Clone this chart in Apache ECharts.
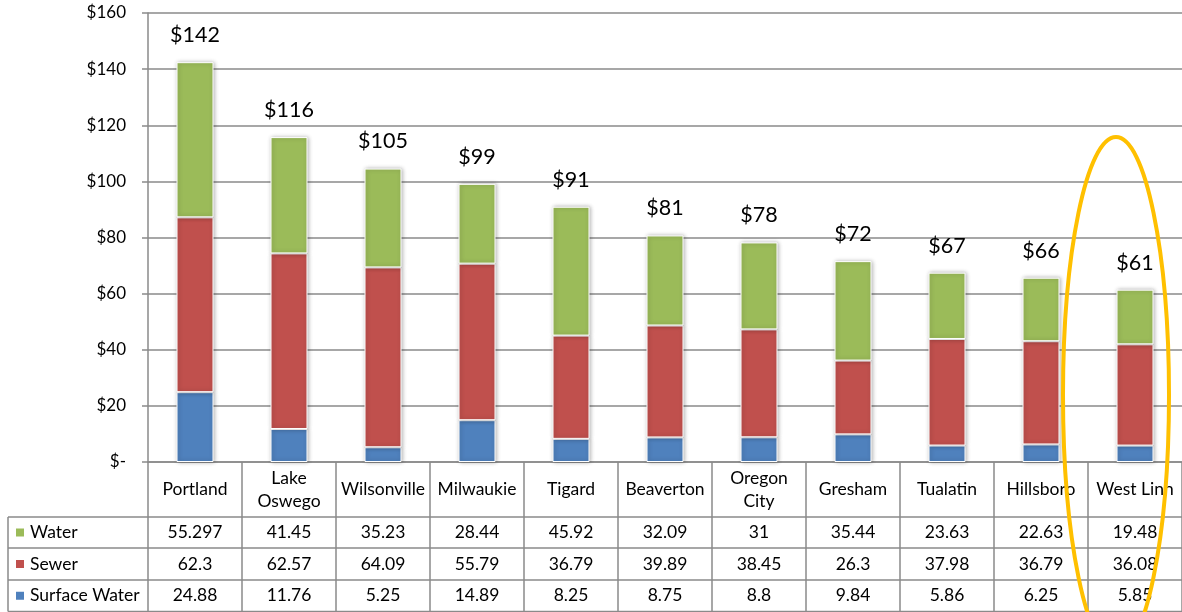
<!DOCTYPE html>
<html>
<head>
<meta charset="utf-8">
<script src="https://cdn.jsdelivr.net/npm/echarts@6/dist/echarts.min.js"></script>
<style>
html,body{margin:0;padding:0;background:#fff;}
#chart{width:1182px;height:612px;}
</style>
</head>
<body>
<div id="chart"></div>
<script>
// ---- data ----
const categories = ['Portland', 'Lake\nOswego', 'Wilsonville', 'Milwaukie', 'Tigard', 'Beaverton', 'Oregon\nCity', 'Gresham', 'Tualatin', 'Hillsboro', 'West Linn'];
const seriesNames = ['Water', 'Sewer', 'Surface Water'];
const water = [55.297, 41.45, 35.23, 28.44, 45.92, 32.09, 31, 35.44, 23.63, 22.63, 19.48];
const sewer = [62.3, 62.57, 64.09, 55.79, 36.79, 39.89, 38.45, 26.3, 37.98, 36.79, 36.08];
const surfaceWater = [24.88, 11.76, 5.25, 14.89, 8.25, 8.75, 8.8, 9.84, 5.86, 6.25, 5.85];
const yTicks = [0, 20, 40, 60, 80, 100, 120, 140, 160];

const colors = { 'Water': '#9BBB59', 'Sewer': '#C0504D', 'Surface Water': '#4F81BD' };
const FONT = 'Lato, "Open Sans", sans-serif';
const totals = categories.map((c, i) => water[i] + sewer[i] + surfaceWater[i]);

const chart = echarts.init(document.getElementById('chart'), null, { renderer: 'canvas' });

const barStyle = (name) => ({
  color: colors[name],
  borderColor: '#ffffff',
  borderWidth: 1,
  shadowBlur: 4,
  shadowColor: 'rgba(0,0,0,0.3)',
  shadowOffsetX: 1,
  shadowOffsetY: 0
});

const option = {
  animation: false,
  backgroundColor: '#ffffff',
  grid: { left: 148, right: 0, top: 13, bottom: 150, containLabel: false },
  xAxis: {
    type: 'category',
    data: categories,
    axisLine: { show: true, lineStyle: { color: '#8a8a8a', width: 1.5 } },
    axisTick: { show: false },
    axisLabel: { show: false },
    splitLine: { show: false }
  },
  yAxis: {
    type: 'value',
    min: yTicks[0],
    max: yTicks[yTicks.length - 1],
    interval: 20,
    axisLine: { show: true, lineStyle: { color: '#8a8a8a', width: 1.5 } },
    axisTick: { show: true, inside: false, length: 6, lineStyle: { color: '#8a8a8a', width: 1.5 } },
    splitLine: { show: true, lineStyle: { color: '#8a8a8a', width: 1.5 } },
    axisLabel: {
      margin: 22,
      fontFamily: FONT,
      fontSize: 17,
      color: '#000',
      formatter: (v) => v === 0 ? '$-' : '$' + v
    }
  },
  series: [
    {
      name: 'Surface Water', type: 'bar', stack: 'total', barWidth: 37,
      data: surfaceWater, itemStyle: barStyle('Surface Water')
    },
    {
      name: 'Sewer', type: 'bar', stack: 'total', barWidth: 37,
      data: sewer, itemStyle: barStyle('Sewer')
    },
    {
      name: 'Water', type: 'bar', stack: 'total', barWidth: 37,
      data: water, itemStyle: barStyle('Water'),
      label: {
        show: true, position: 'top', distance: 16,
        fontFamily: FONT, fontSize: 21.5, color: '#000',
        formatter: (p) => '$' + Math.round(totals[p.dataIndex])
      }
    }
  ]
};
chart.setOption(option);

// ---- data table drawn below the plot ----
function buildTable() {
  const lineColor = '#8a8a8a';
  const lw = 1.5;
  const fs = 17.5;
  const yAxisY = chart.convertToPixel({ yAxisIndex: 0 }, 0);
  const half = chart.convertToPixel({ xAxisIndex: 0 }, 1) - chart.convertToPixel({ xAxisIndex: 0 }, 0);
  const centers = categories.map((c, i) => chart.convertToPixel({ xAxisIndex: 0 }, i));
  const leftX = centers[0] - half / 2;
  const rightX = centers[centers.length - 1] + half / 2;
  const tableLeft = 8;
  const headerBottom = 517;
  const rowBounds = [517, 548, 580, 611.5];
  const rows = [water, sewer, surfaceWater];
  const els = [];
  const line = (x1, y1, x2, y2) => els.push({
    type: 'line', z: 10, silent: true,
    shape: { x1, y1, x2, y2 }, style: { stroke: lineColor, lineWidth: lw }
  });
  for (let k = 0; k <= categories.length; k++) {
    const x = leftX + k * half;
    line(x, yAxisY, x, rowBounds[rowBounds.length - 1]);
  }
  line(tableLeft, headerBottom, tableLeft, rowBounds[rowBounds.length - 1]);
  rowBounds.forEach(y => line(tableLeft, y, rightX, y));
  centers.forEach((cx, i) => {
    els.push({
      type: 'text', z: 11, silent: true,
      style: {
        x: cx, y: (yAxisY + headerBottom) / 2, text: categories[i],
        fontFamily: FONT, fontSize: fs, fill: '#000',
        align: 'center', verticalAlign: 'middle', lineHeight: 23
      }
    });
  });
  rows.forEach((vals, r) => {
    const cy = (rowBounds[r] + rowBounds[r + 1]) / 2;
    els.push({
      type: 'rect', z: 11, silent: true,
      shape: { x: 16, y: cy - 4, width: 8, height: 8 },
      style: { fill: colors[seriesNames[r]] }
    });
    els.push({
      type: 'text', z: 11, silent: true,
      style: {
        x: 30, y: cy, text: seriesNames[r], fontFamily: FONT, fontSize: fs,
        fill: '#000', align: 'left', verticalAlign: 'middle'
      }
    });
    vals.forEach((v, i) => {
      els.push({
        type: 'text', z: 11, silent: true,
        style: {
          x: centers[i], y: cy, text: String(v), fontFamily: FONT, fontSize: fs,
          fill: '#000', align: 'center', verticalAlign: 'middle'
        }
      });
    });
  });
  els.push({
    type: 'ellipse', z: 20, silent: true,
    shape: { cx: 1116, cy: 395, rx: 53, ry: 258 },
    style: { fill: 'none', stroke: '#FFC000', lineWidth: 4 }
  });
  chart.setOption({ graphic: { elements: els } });
}
buildTable();
</script>
</body>
</html>
